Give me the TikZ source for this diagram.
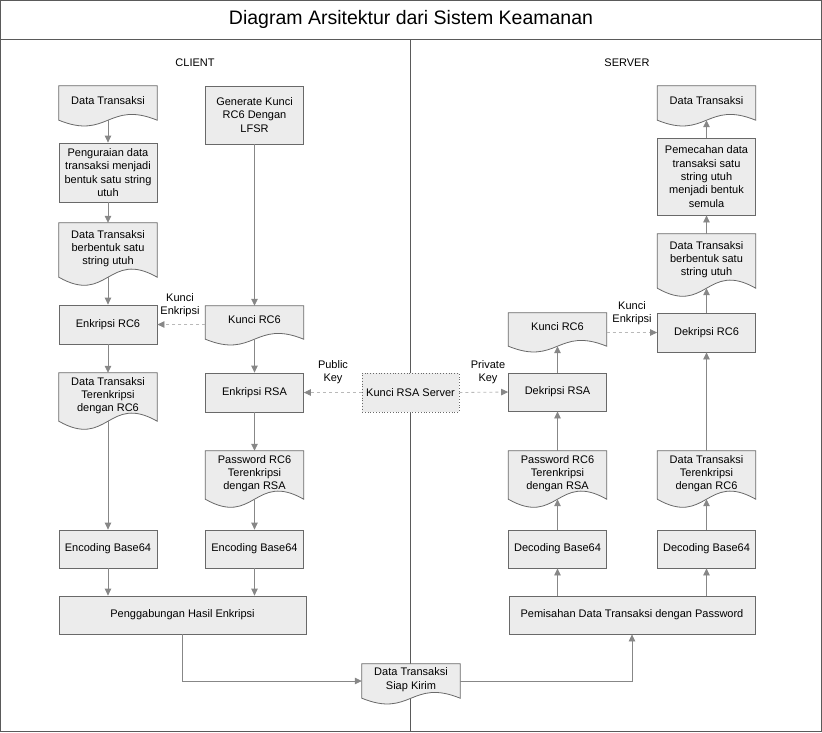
\documentclass[tikz,border=0pt]{standalone}
\usepackage{fontspec}
\setmainfont{Liberation Sans}
\usetikzlibrary{arrows.meta,backgrounds,calc}
\definecolor{boxfill}{RGB}{236,236,236}
\definecolor{boxline}{RGB}{105,105,105}
\definecolor{conn}{RGB}{135,135,135}
\definecolor{dashc}{RGB}{185,185,185}
\definecolor{framec}{RGB}{90,90,90}
\tikzset{
  base/.style={font=\fontsize{11}{13.3}\selectfont, align=center, inner sep=0pt},
  procbox/.style={base, draw=boxline, fill=boxfill, line width=0.8pt, minimum width=98pt},
  docbox/.style={base, minimum width=98pt, text depth=5pt},
  keybox/.style={base, draw=boxline, dotted, fill=boxfill, line width=0.8pt, minimum width=97pt},
  flow/.style={draw=conn, line width=0.8pt, -{Triangle[length=7pt,width=6.5pt,color=conn]}},
  dflow/.style={draw=dashc, dashed, line width=0.8pt, -{Triangle[length=7pt,width=6.5pt,color=conn]}},
  lbl/.style={base},
  docline/.style={draw=boxline, fill=boxfill, line width=0.8pt}
}
\newcommand{\docbg}[2]{%
  \filldraw[docline] (#1.south west) -- (#1.north west) -- (#1.north east) -- (#1.south east)
    .. controls +(-49,-#2) and +(49,#2) .. (#1.south west) -- cycle;}
\begin{document}
\begin{tikzpicture}[x=1pt,y=-1pt]
\useasboundingbox (0,0) rectangle (822,732);
% title
\node[font=\fontsize{19.5}{22}\selectfont, inner sep=0pt] (title) at (411,19) {Diagram Arsitektur dari Sistem Keamanan};
\node[base] (client) at (195,63) {CLIENT};
\node[base] (server) at (627,63) {SERVER};
% client left column
\node[docbox, minimum height=34pt] (cdt) at (108,103) {Data Transaksi};
\node[procbox, minimum height=59pt] (cparse) at (108,172.5) {Penguraian data\\transaksi menjadi\\bentuk satu string\\utuh};
\node[docbox, minimum height=54pt] (cstr) at (108,250) {Data Transaksi\\berbentuk satu\\string utuh};
\node[procbox, minimum height=39pt] (cenc) at (108,324.5) {Enkripsi RC6};
\node[docbox, minimum height=48pt] (cenctx) at (108,397) {Data Transaksi\\Terenkripsi\\dengan RC6};
\node[procbox, minimum height=38pt] (cb64a) at (108,549) {Encoding Base64};
\node[procbox, minimum height=38pt, minimum width=247pt] (cmerge) at (182.5,615) {Penggabungan Hasil Enkripsi};
% client right column
\node[procbox, minimum height=58pt] (cgen) at (254.5,115) {Generate Kunci\\RC6 Dengan\\LFSR};
\node[docbox, minimum height=33pt] (ckey) at (254.5,322.5) {Kunci RC6};
\node[procbox, minimum height=39pt] (crsa) at (254.5,392.5) {Enkripsi RSA};
\node[docbox, minimum height=48pt] (cpass) at (254.5,475) {Password RC6\\Terenkripsi\\dengan RSA};
\node[procbox, minimum height=38pt] (cb64b) at (254.5,549) {Encoding Base64};
% middle
\node[keybox, minimum height=39pt] (rsakey) at (410.5,392.5) {Kunci RSA Server};
\node[docbox, minimum height=34pt] (ready) at (411,681) {Data Transaksi\\Siap Kirim};
% server
\node[docbox, minimum height=34pt] (sdt) at (706.5,103) {Data Transaksi};
\node[procbox, minimum height=77pt] (ssplit) at (706.5,176.5) {Pemecahan data\\transaksi satu\\string utuh\\menjadi bentuk\\semula};
\node[docbox, minimum height=54pt] (sstr) at (706.5,261) {Data Transaksi\\berbentuk satu\\string utuh};
\node[procbox, minimum height=39pt] (sdec) at (706.5,332.5) {Dekripsi RC6};
\node[docbox, minimum height=33pt] (skey) at (557.5,329.5) {Kunci RC6};
\node[procbox, minimum height=38pt] (srsa) at (557.5,392) {Dekripsi RSA};
\node[docbox, minimum height=48pt] (spass) at (557.5,475) {Password RC6\\Terenkripsi\\dengan RSA};
\node[docbox, minimum height=48pt] (senctx) at (706.5,475) {Data Transaksi\\Terenkripsi\\dengan RC6};
\node[procbox, minimum height=38pt] (sb64a) at (557.5,549) {Decoding Base64};
\node[procbox, minimum height=38pt] (sb64b) at (706.5,549) {Decoding Base64};
\node[procbox, minimum height=38pt, minimum width=246pt] (ssep) at (632,615) {Pemisahan Data Transaksi dengan Password};
% labels
\node[lbl] (lk1) at (180,305) {Kunci\\Enkripsi};
\node[lbl] (lpub) at (333,372) {Public\\Key};
\node[lbl] (lpriv) at (488,372) {Private\\Key};
\node[lbl] (lk2) at (632,313) {Kunci\\Enkripsi};
% background: frame, divider, document shapes
\begin{pgfonlayer}{background}
\draw[framec, line width=0.9pt] (0.5,0.5) rectangle (821.5,731.5);
\draw[framec, line width=0.9pt] (0,39) -- (822,39);
\draw[framec, line width=0.9pt] (410.5,39) -- (410.5,732);
\docbg{cdt}{20}
\docbg{cstr}{28}
\docbg{cenctx}{28}
\docbg{ckey}{20}
\docbg{cpass}{28}
\docbg{ready}{20}
\docbg{sdt}{20}
\docbg{sstr}{28}
\docbg{skey}{20}
\docbg{spass}{28}
\docbg{senctx}{28}
\end{pgfonlayer}
% client connectors
\draw[flow] (cdt.south) -- (cparse.north);
\draw[flow] (cparse.south) -- (cstr.north);
\draw[flow] (cstr.south) -- (cenc.north);
\draw[flow] (cenc.south) -- (cenctx.north);
\draw[flow] (cenctx.south) -- (cb64a.north);
\draw[flow] (cb64a.south) -- (cb64a.south |- cmerge.north);
\draw[flow] (cgen.south) -- (ckey.north);
\draw[flow] (ckey.south) -- (crsa.north);
\draw[flow] (crsa.south) -- (cpass.north);
\draw[flow] (cpass.south) -- (cb64b.north);
\draw[flow] (cb64b.south) -- (cb64b.south |- cmerge.north);
\draw[dflow] (cenc.east -| ckey.west) -- (cenc.east);
\draw[dflow] (rsakey.west) -- (crsa.east);
\draw[dflow] (rsakey.east) -- (srsa.west);
\draw[flow] (cmerge.south) |- (ready.west);
\draw[flow] (ready.east) -| (ssep.south);
% server connectors
\draw[flow] (sb64a.south |- ssep.north) -- (sb64a.south);
\draw[flow] (sb64b.south |- ssep.north) -- (sb64b.south);
\draw[flow] (sb64a.north) -- (spass.south);
\draw[flow] (sb64b.north) -- (senctx.south);
\draw[flow] (spass.north) -- (srsa.south);
\draw[flow] (srsa.north) -- (skey.south);
\draw[flow] (senctx.north) -- (sdec.south);
\draw[flow] (sdec.north) -- (sstr.south);
\draw[flow] (sstr.north) -- (ssplit.south);
\draw[flow] (ssplit.north) -- (sdt.south);
\draw[dflow] (skey.east |- sdec.west) -- (sdec.west);
\end{tikzpicture}
\end{document}
